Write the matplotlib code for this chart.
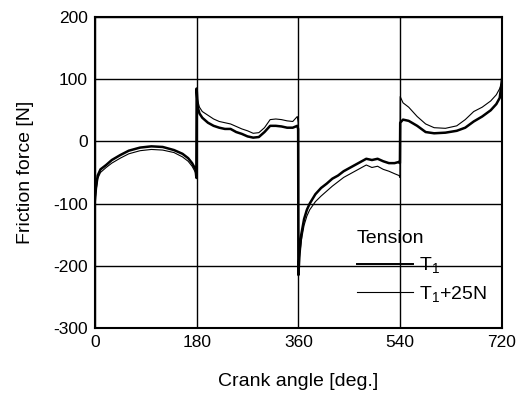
import numpy as np
import matplotlib.pyplot as plt

plt.rcParams['font.family'] = ['Liberation Sans', 'DejaVu Sans']
plt.rcParams['mathtext.default'] = 'regular'
plt.rcParams['axes.unicode_minus'] = False

# crank angle (deg.), jumps at 180/360/540
angle = [0, 2, 5, 10, 20, 30, 45, 60, 80, 100, 120, 140, 155, 165, 172, 178, 179.5,
         180, 182, 185, 190, 200, 210, 220, 230, 240, 250, 260, 270, 280, 290, 300, 310, 320, 330, 340, 350, 358, 359.5,
         360, 362, 365, 370, 375, 380, 390, 400, 410, 420, 430, 440, 450, 460, 470, 480, 490, 500, 510, 520, 530, 538, 539.5,
         540, 545, 555, 570, 585, 600, 620, 640, 655, 670, 685, 700, 710, 716, 720]

# friction force (N), tension T1
T1 = [-95, -75, -55, -45, -38, -30, -22, -15, -10, -8, -9, -14, -20, -27, -35, -45, -58,
      85, 55, 45, 38, 30, 25, 22, 20, 20, 15, 12, 8, 6, 7, 15, 25, 25, 24, 22, 22, 25, 20,
      -215, -180, -150, -125, -110, -100, -85, -75, -68, -60, -55, -48, -43, -38, -33, -28, -30, -28, -32, -35, -35, -33, -35,
      30, 35, 33, 25, 15, 13, 14, 17, 22, 32, 40, 50, 60, 70, 100]

# tension T1+25N
T1_25 = [-100, -80, -60, -50, -42, -35, -27, -20, -15, -13, -14, -18, -25, -32, -40, -50, -60,
         75, 65, 55, 48, 42, 36, 32, 30, 28, 24, 20, 17, 13, 14, 22, 35, 36, 35, 33, 32, 40, 30,
         -205, -185, -160, -135, -120, -110, -97, -88, -80, -72, -65, -58, -53, -48, -43, -38, -42, -40, -45, -48, -52, -55, -58,
         72, 62, 55, 40, 28, 22, 21, 25, 35, 48, 55, 65, 75, 85, 95]

fig = plt.figure(figsize=(5.24, 3.96), dpi=100)
ax = fig.add_axes([0.181, 0.172, 0.777, 0.785])

ax.plot(angle, T1, color='black', lw=1.8, label='T$_1$')
ax.plot(angle, T1_25, color='black', lw=0.8, label='T$_1$+25N')

ax.set_xlim(0, 720)
ax.set_ylim(-300, 200)
ax.set_xticks([0, 180, 360, 540, 720])
ax.set_yticks([-300, -200, -100, 0, 100, 200])
ax.grid(True, color='black', lw=1.0)
for s in ax.spines.values():
    s.set_linewidth(1.5)
ax.tick_params(length=0, labelsize=12.5, pad=5)

ax.set_xlabel('Crank angle [deg.]', fontsize=14, labelpad=17)
ax.set_ylabel('Friction force [N]', fontsize=14, labelpad=14)

leg = ax.legend(title='Tension', loc='lower right', bbox_to_anchor=(1.005, 0.02),
                frameon=False, fontsize=14, title_fontsize=14,
                handlelength=2.9, handletextpad=0.3, labelspacing=0.45,
                alignment='left')
leg.get_lines()[0].set_linewidth(1.4)

plt.savefig('out.png', dpi=100)
